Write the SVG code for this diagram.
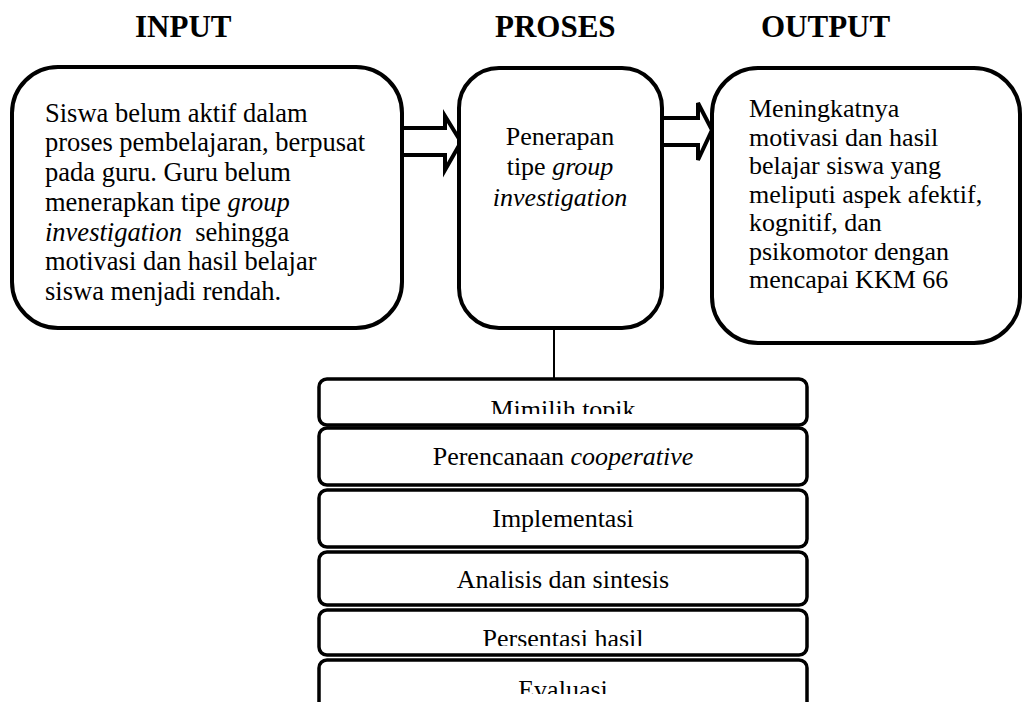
<svg xmlns="http://www.w3.org/2000/svg" width="1022" height="702" viewBox="0 0 1022 702">
<style>
.t{font-family:"Liberation Serif","Times New Roman",serif;font-size:26px;fill:#000}
.l{font-size:26.5px}
.h{font-family:"Liberation Serif","Times New Roman",serif;font-size:31px;font-weight:bold;fill:#000}
.box{fill:#fff;stroke:#000;stroke-width:4}
.step{fill:#fff;stroke:#000;stroke-width:3.5}
.arr{fill:#fff;stroke:#000;stroke-width:4;stroke-linejoin:miter}
.i{font-style:italic}
</style>
<defs>
<clipPath id="c1"><rect x="319" y="379" width="488" height="35"/></clipPath>
<clipPath id="c5"><rect x="319" y="610" width="488" height="36"/></clipPath>
<clipPath id="c6"><rect x="319" y="660" width="488" height="34"/></clipPath>
</defs>
<g id="titles">
<text class="h" x="135" y="37">INPUT</text>
<text class="h" x="495" y="37">PROSES</text>
<text class="h" x="761" y="37">OUTPUT</text>
</g>
<g id="connectors">
<polygon class="arr" points="402,128 445,128 445,116 461,142 445,170 445,155 402,155"/>
<polygon class="arr" points="662,118 698,118 698,103 712,130 698,160 698,145 662,145"/>
<line x1="554" y1="328" x2="554" y2="379" stroke="#000" stroke-width="2"/>
</g>
<g id="input">
<rect class="box" x="12" y="67" width="390" height="261" rx="46" ry="46"/>
<text class="t l" x="45" y="122">Siswa belum aktif dalam</text>
<text class="t l" x="45" y="151">proses pembelajaran, berpusat</text>
<text class="t l" x="45" y="181">pada guru. Guru belum</text>
<text class="t l" x="45" y="211">menerapkan tipe <tspan class="i">group</tspan></text>
<text class="t l" x="45" y="241" xml:space="preserve"><tspan class="i">investigation</tspan>  sehingga</text>
<text class="t l" x="45" y="270">motivasi dan hasil belajar</text>
<text class="t l" x="45" y="300">siswa menjadi rendah.</text>
</g>
<g id="proses">
<rect class="box" x="459" y="68" width="203" height="260" rx="40" ry="40"/>
<text class="t" x="560" y="145" text-anchor="middle">Penerapan</text>
<text class="t" x="560" y="175" text-anchor="middle">tipe <tspan class="i">group</tspan></text>
<text class="t i" x="560" y="206" text-anchor="middle">investigation</text>
</g>
<g id="output">
<rect class="box" x="712" y="68" width="308" height="275" rx="46" ry="46"/>
<text class="t" x="749" y="117">Meningkatnya</text>
<text class="t" x="749" y="146">motivasi dan hasil</text>
<text class="t" x="749" y="174">belajar siswa yang</text>
<text class="t" x="749" y="203">meliputi aspek afektif,</text>
<text class="t" x="749" y="231">kognitif, dan</text>
<text class="t" x="749" y="260">psikomotor dengan</text>
<text class="t" x="749" y="288">mencapai KKM 66</text>
</g>
<g id="step1">
<rect class="step" x="319" y="379" width="488" height="46" rx="8" ry="8"/>
<text class="t" x="563" y="418" text-anchor="middle" clip-path="url(#c1)">Mimilih topik</text>
</g>
<g id="step2">
<rect class="step" x="319" y="428" width="488" height="57" rx="8" ry="8"/>
<text class="t" x="563" y="465" text-anchor="middle">Perencanaan <tspan class="i">cooperative</tspan></text>
</g>
<g id="step3">
<rect class="step" x="319" y="490" width="488" height="57" rx="8" ry="8"/>
<text class="t" x="563" y="527" text-anchor="middle">Implementasi</text>
</g>
<g id="step4">
<rect class="step" x="319" y="552" width="488" height="53" rx="8" ry="8"/>
<text class="t" x="563" y="588" text-anchor="middle">Analisis dan sintesis</text>
</g>
<g id="step5">
<rect class="step" x="319" y="610" width="488" height="45" rx="8" ry="8"/>
<text class="t" x="563" y="647" text-anchor="middle" clip-path="url(#c5)">Persentasi hasil</text>
</g>
<g id="step6">
<rect class="step" x="319" y="660" width="488" height="60" rx="8" ry="8"/>
<text class="t" x="563" y="698" text-anchor="middle" clip-path="url(#c6)">Evaluasi</text>
</g>
</svg>
